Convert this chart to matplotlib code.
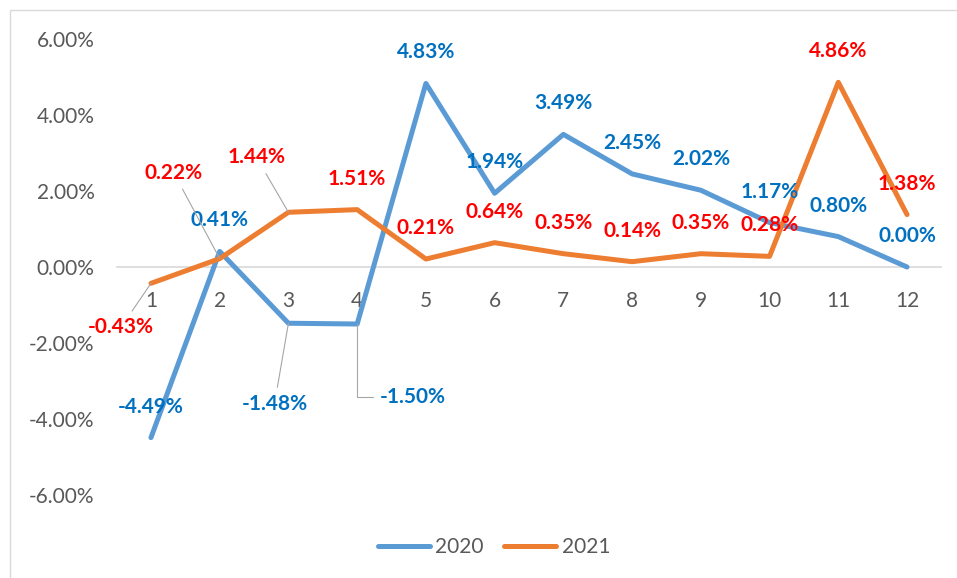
import matplotlib
matplotlib.use("Agg")
import matplotlib.pyplot as plt
from matplotlib.patches import Rectangle
from matplotlib.ticker import FuncFormatter

# monthly change, percent
months = list(range(1, 13))
values_2020 = [-4.49, 0.41, -1.48, -1.50, 4.83, 1.94, 3.49, 2.45, 2.02, 1.17, 0.80, 0.00]
values_2021 = [-0.43, 0.22, 1.44, 1.51, 0.21, 0.64, 0.35, 0.14, 0.35, 0.28, 4.86, 1.38]
y_ticks = [-6, -4, -2, 0, 2, 4, 6]

# label offsets (pixels) where Excel moved a label off its default spot
moved_2020 = {3: (-14, -81), 4: (56, -73)}
moved_2021 = {1: (-30, -44), 2: (-46, 86), 3: (-32, 55)}
default_offset = (0, 31)

plt.rcParams['font.family'] = ['Lato', 'DejaVu Sans']
grey = '#595959'

fig = plt.figure(figsize=(9.57, 5.78), dpi=100)
ax = fig.add_axes([116.6 / 957, (578 - 495) / 578, 824.8 / 957, 456 / 578])

series = [
    ('2020', values_2020, '#5B9BD5', '#0070C0', moved_2020),
    ('2021', values_2021, '#ED7D31', '#FF0000', moved_2021),
]

for name, vals, line_color, label_color, moved in series:
    ax.plot(months, vals, color=line_color, lw=3.6, label=name,
            solid_capstyle='round', solid_joinstyle='round', zorder=2)

for name, vals, line_color, label_color, moved in series:
    for m, v in zip(months, vals):
        off = moved.get(m, default_offset)
        kw = {}
        if m in moved:
            conn = 'arc3'
            if name == '2020' and m == 4:
                conn = 'angle,angleA=0,angleB=90,rad=0'
            kw['arrowprops'] = dict(arrowstyle='-', color='#a6a6a6', lw=0.8,
                                    shrinkA=3, shrinkB=0, connectionstyle=conn)
        ax.annotate(f"{v:.2f}%", xy=(m, v), xytext=off, textcoords='offset pixels',
                    ha='center', va='center', color=label_color, fontsize=15,
                    fontweight='bold', zorder=5, **kw)

ax.set_xlim(0.5, 12.5)
ax.set_ylim(-6, 6)
ax.set_yticks(y_ticks)
ax.yaxis.set_major_formatter(FuncFormatter(lambda v, p: f"{v:.2f}%"))
ax.set_xticks(months)
ax.set_xticklabels([str(m) for m in months])

for s in ['top', 'right', 'left']:
    ax.spines[s].set_visible(False)
ax.spines['bottom'].set_position(('data', 0))
ax.spines['bottom'].set_color('#d9d9d9')
ax.spines['bottom'].set_linewidth(1.2)
ax.spines['bottom'].set_zorder(1)

ax.tick_params(axis='y', length=0, pad=16, labelsize=15, labelcolor=grey)
ax.tick_params(axis='x', length=0, pad=17, labelsize=15, labelcolor=grey)

fig.legend(loc='center', bbox_to_anchor=(494 / 957, (578 - 547) / 578), ncol=2,
           frameon=False, fontsize=15, handlelength=2.5, handletextpad=0.25,
           columnspacing=1.0, labelcolor=grey)

fig.patches.append(Rectangle((10 / 957, -0.02), 1.0, (578 - 10) / 578 + 0.02,
                             transform=fig.transFigure, fill=False,
                             ec='#d9d9d9', lw=1.0))

fig.savefig('out.png', dpi=100)
